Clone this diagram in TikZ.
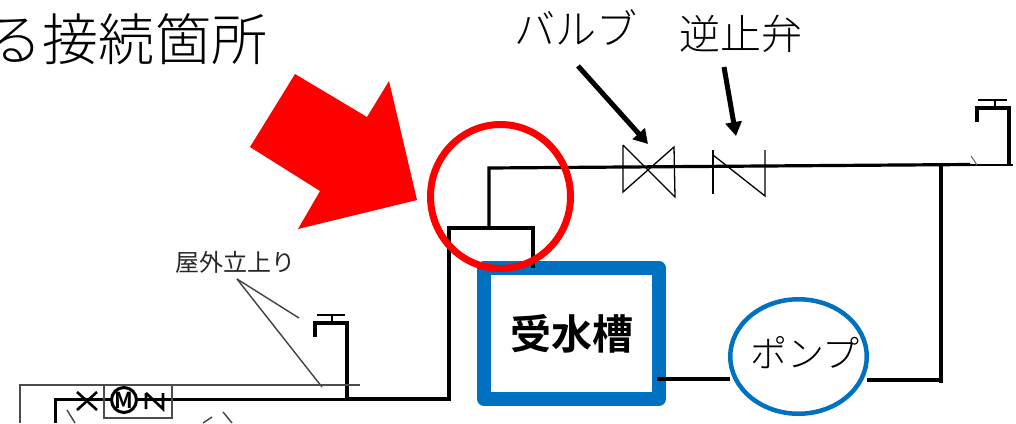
\documentclass[tikz,border=0pt]{standalone}
\usepackage{fontspec}
\newfontfamily\jp{Noto Sans CJK JP Light}
\newfontfamily\jpr{Noto Sans CJK JP}
\newfontfamily\jpb{Noto Sans CJK JP Bold}
\usetikzlibrary{arrows.meta,shapes.geometric}
\definecolor{tankblue}{HTML}{0070C0}
\tikzset{
  pipe/.style={draw=black,line width=3.5pt,line join=miter},
  thin pipe/.style={draw=black,line width=1.3pt},
  tap/.style={draw=black,line width=3.2pt},
  grey line/.style={draw=black!70,line width=2pt},
  leader/.style={draw=black!75,line width=1.4pt},
  callout/.style={draw=black,line width=5pt,-{Triangle[length=14pt,width=16pt]}},
  label/.style={inner sep=0pt,outer sep=0pt},
}
\begin{document}
\begin{tikzpicture}[x=1pt,y=-1pt]
\useasboundingbox (0,0) rectangle (1016,423);
\clip (0,0) rectangle (1016,423);
% titles
\node[label,anchor=west,font=\jp\fontsize{56}{56}\selectfont] (title) at (-13,39.5) {る接続箇所};
\node[label,font=\jp\fontsize{41}{41}\selectfont] (valvelabel) at (576,28) {バルブ};
\node[label,font=\jp\fontsize{41}{41}\selectfont] (checklabel) at (741,34) {逆止弁};
\node[label,font=\jpr\fontsize{24}{24}\selectfont,text=black!85] (outdoor) at (235,262) {屋外立上り};
% coordinates
\coordinate (a1) at (348,399);
\coordinate (a2) at (449,399);
\coordinate (a3) at (449,228);
\coordinate (a4) at (533,228);
\coordinate (a5) at (533,268);
\coordinate (b1) at (489,228);
\coordinate (b2) at (489,168);
\coordinate (b3) at (970,164.5);
\coordinate (c1) at (941,165);
\coordinate (c2) at (941,383);
% tank and pump
\node[draw=tankblue,line width=14pt,line join=round,minimum width=174.5pt,minimum height=131pt,inner sep=0pt,outer sep=0pt,fill=white,
  font=\jpb\fontsize{41}{41}\selectfont] (tank) at (571.5,333.5) {\raisebox{2.5pt}{受水槽}};
\node[draw=tankblue,ellipse,line width=4.5pt,minimum width=136.5pt,minimum height=114.5pt,inner sep=0pt,outer sep=0pt] (pump) at (798.5,356.5) {};
\node[label,font=\jp\fontsize{37}{37}\selectfont] (pumplabel) at (805,353) {ポンプ};
% main pipes
\draw[pipe,line width=3.2pt] (a1) -- (a2) -- (a3) -- (a4) -- (a5);
\draw[pipe,line width=3.2pt] (b1) -- (b2) -- (b3);
\draw[pipe] (c1) -- (c2);
\draw[pipe] ([xshift=-2pt]tank.east |- 0,379) -- (pump.west |- 0,379);
\draw[pipe] (pump.east |- 0,380) -- (942.7,380);
% red callouts
\draw[red,line width=7pt] (500.5,196.5) ellipse [x radius=70pt,y radius=72pt];
\fill[red] (295,74) -- (367,117) -- (389,81) -- (417,200) -- (298,229) -- (320,191) -- (250,147) -- cycle;
% black arrows
\coordinate (arrow1s) at (578,66);
\coordinate (arrow1e) at (648,144);
\coordinate (arrow2s) at (724,67);
\coordinate (arrow2e) at (736,136);
\draw[callout] (arrow1s) -- (arrow1e);
\draw[callout] (arrow2s) -- (arrow2e);
% valves
\draw[thin pipe] (623,145) -- (623,192) -- (674,147) -- (675,197) -- (623,145);
\draw[thin pipe] (713,150) -- (713,194);
\draw[thin pipe] (713,155) -- (765,196) -- (765,150);
% right tap
\draw[thin pipe] (970,165) -- (1013,165);
\draw[black!60,line width=1pt] (971,156) -- (977,165);
\draw[tap] (1009,165) -- (1009,108) -- (977,108) -- (977,122);
\draw[tap,line width=2.6pt] (978,100) -- (1007,100) (995,100) -- (995,108);
% outdoor tap
\draw[tap] (347,399) -- (347,323) -- (315,323) -- (315,337);
\draw[tap,line width=2.6pt] (317,315) -- (345,315) (332,315) -- (332,323);
% leaders
\coordinate (lead) at (237,279);
\draw[leader] (lead) -- (299,318);
\draw[leader] (lead) -- (322,387);
% lower left
\draw[grey line] (20,423) -- (20,384.5) -- (360,384.5);
\draw[pipe,line width=3pt] (55,423) -- (55,399) -- (360,399);
\draw[grey line] (104,384.5) -- (104,418) -- (172,418) -- (172,384.5);
\draw[thin pipe,line width=2.6pt] (77,392) -- (97,410) (97,392) -- (77,410);
\node[draw=black,circle,line width=3pt,minimum size=25pt,inner sep=0pt,fill=white,font=\jpb\fontsize{22}{22}\selectfont] (motor) at (124,400) {M};
\draw[thin pipe,line width=2.6pt] (146,393) -- (146,409) (146,393) -- (163,409) -- (163,393);
\draw[leader] (67,410) -- (75,423);
\draw[leader] (223,412) -- (232,423) (203,423) -- (212,417);
\end{tikzpicture}
\end{document}
